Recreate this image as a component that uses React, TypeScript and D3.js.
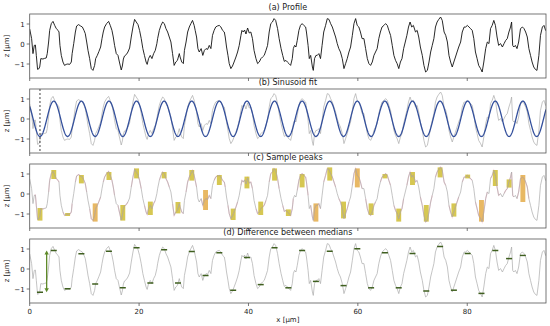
import React from 'react';
import * as d3 from 'd3';

const W = 550;
const H = 326;

// Surface profile z(x), x in µm, z in µm
const profile: [number, number][] = [
  [0,0.75],[0.35,0.27],[0.6,-0.48],[0.84,-0.07],[1.04,-0.05],[1.21,-0.57],[1.44,-1.27],[1.63,-1.25],[1.83,-1.15],[2.03,-0.73],[2.42,-0.75],[2.72,-0.72],[3.02,-0.7],[3.21,-0.48],[3.46,0.1],[3.65,0.68],[3.95,1.02],[4.26,1.13],[4.57,0.93],[4.86,0.77],[5.19,0.68],[5.36,0.6],[5.53,-0.07],[5.78,-0.57],[6.08,-0.9],[6.37,-1.07],[6.67,-1.02],[6.97,-1.0],[7.31,-1.02],[7.61,-0.9],[7.76,-0.48],[8.05,0.02],[8.35,0.6],[8.58,0.9],[8.94,0.97],[9.31,0.9],[9.63,0.85],[9.93,0.68],[10.16,0.52],[10.42,0.1],[10.66,-0.32],[10.96,-0.73],[11.26,-1.23],[11.57,-1.32],[11.87,-1.07],[12.06,-0.73],[12.36,-0.57],[12.66,-0.37],[12.97,-0.15],[13.22,0.27],[13.45,0.6],[13.7,0.85],[14.06,1.02],[14.43,1.13],[14.73,0.93],[15.04,0.68],[15.28,0.35],[15.52,-0.07],[15.83,-0.48],[16.14,-0.57],[16.44,-0.95],[16.74,-1.3],[16.94,-1.1],[17.13,-0.75],[17.33,-0.6],[17.66,-0.53],[17.96,-0.4],[18.27,-0.2],[18.57,0.35],[18.88,0.85],[19.18,1.23],[19.48,1.1],[19.8,0.97],[20.09,0.68],[20.39,0.27],[20.69,-0.23],[20.98,-0.57],[21.28,-0.9],[21.48,-1.02],[21.73,-0.73],[22.04,-0.57],[22.35,-0.73],[22.66,-0.48],[22.96,-0.32],[23.25,0.02],
  [23.39,0.27],[23.7,0.68],[24.0,0.93],[24.31,1.1],[24.61,1.02],[24.91,0.77],[25.22,0.6],[25.52,0.35],[25.82,0.1],[26.12,-0.48],[26.41,-1.07],[26.71,-0.9],[27.01,-0.82],[27.35,-0.48],[27.5,-0.65],[27.8,-0.9],[28.09,-0.98],[28.29,-0.32],[28.59,0.1],[28.88,0.6],[29.18,0.85],[29.47,1.02],[29.77,1.18],[30.07,0.93],[30.26,0.68],[30.51,0.35],[30.76,-0.23],[31.0,-0.4],[31.35,-0.23],[31.65,-0.57],[31.94,-0.32],[32.24,-0.23],[32.53,-0.27],[32.83,-0.07],[33.13,-0.23],[33.42,0.43],[33.72,0.68],[34.01,0.85],[34.31,0.9],[34.66,0.93],[34.96,0.85],[35.27,0.68],[35.58,0.6],[35.75,0.35],[35.99,-0.15],[36.25,-0.57],[36.48,-0.98],[36.78,-1.23],[37.08,-1.1],[37.37,-0.9],[37.71,-0.65],[38.01,-0.4],[38.31,-0.07],[38.62,0.43],[38.8,0.68],[39.05,0.6],[39.29,0.7],[39.54,0.5],[39.84,0.8],[40.14,0.55],[40.43,0.6],[40.73,0.27],[41.02,-0.32],[41.37,-0.73],[41.67,-0.98],[41.97,-0.9],[42.28,-0.73],[42.57,-0.65],[42.88,-0.57],[43.2,-0.32],[43.49,-0.07],[43.79,0.6],[44.08,1.02],[44.38,1.1],[44.68,1.27],[44.97,1.18],[45.32,0.77],[45.61,0.27],[45.96,-0.23],[46.26,-0.57],[46.55,-0.87],[46.85,-0.82],
  [47.11,-0.9],[47.41,-0.98],[47.71,-1.07],[48.01,-0.73],[48.2,-0.23],[48.43,-0.07],[48.68,-0.15],[48.92,0.18],[49.22,0.68],[49.51,0.93],[49.81,1.02],[50.11,0.93],[50.45,0.85],[50.6,0.6],[50.9,-0.07],[51.12,-0.73],[51.37,-0.57],[51.69,-1.15],[51.85,-1.32],[52.08,-0.73],[52.34,-0.57],[52.57,-0.57],[52.87,-0.48],[53.17,-0.73],[53.46,-0.07],[53.76,0.6],[54.1,0.93],[54.41,1.27],[54.72,1.23],[55.02,1.02],[55.33,0.85],[55.63,0.6],[55.93,0.35],[56.23,0.02],[56.52,-0.23],[56.82,-0.4],[57.15,-0.73],[57.46,-1.23],[57.76,-0.98],[58.06,-0.73],[58.37,-0.4],[58.67,-0.15],[58.99,0.43],[59.29,1.02],[59.59,1.27],[59.88,0.93],[60.18,0.85],[60.47,0.6],[60.77,0.27],[61.11,0.27],[61.42,-0.23],[61.73,-0.73],[62.02,-0.98],[62.33,-1.07],[62.64,-0.9],[62.94,-0.57],[63.23,-0.4],[63.53,-0.23],[63.83,0.27],[64.12,0.6],[64.42,0.85],[64.77,0.93],[65.07,1.02],[65.38,0.93],[65.67,0.68],[65.98,0.43],[66.29,-0.07],[66.59,-0.57],[66.89,-0.82],[67.18,-0.98],[67.48,-1.23],[67.78,-0.9],[68.07,-0.73],[68.37,-0.23],[68.67,0.1],[68.96,0.43],[69.26,0.85],[69.55,1.1],[69.85,0.85],[70.15,0.93],
  [70.54,0.6],[70.84,0.68],[71.13,0.35],[71.43,-0.15],[71.78,-0.57],[72.08,-1.07],[72.39,-1.4],[72.71,-1.32],[73.01,-0.9],[73.31,-0.4],[73.6,-0.07],[73.9,0.27],[74.19,0.85],[74.49,1.1],[74.79,1.23],[75.13,1.35],[75.43,1.18],[75.77,0.6],[76.07,0.43],[76.37,0.1],[76.66,-0.57],[76.96,-0.9],[77.26,-1.15],[77.55,-0.9],[77.85,-0.65],[78.14,-0.4],[78.44,-0.15],[78.79,0.1],[79.09,0.6],[79.43,0.85],[79.72,0.85],[80.02,0.93],[80.31,0.85],[80.61,0.77],[80.91,0.68],[81.2,0.27],[81.5,-0.4],[81.8,-0.73],[82.09,-1.07],[82.44,-1.23],[82.73,-1.4],[83.03,-0.9],[83.37,-0.23],[83.67,0.1],[83.97,0.02],[84.26,0.77],[84.56,0.93],[84.86,1.18],[85.15,0.93],[85.45,0.35],[85.74,-0.07],[86.09,0.02],[86.43,-0.15],[86.73,0.02],[87.03,0.18],[87.32,0.27],[87.62,0.6],[87.92,0.85],[88.11,1.1],[88.31,-0.07],[88.51,-0.15],[88.8,-0.07],[89.1,-0.23],[89.4,0.1],[89.74,0.77],[90.09,0.85],[90.38,0.77],[90.68,0.6],[90.98,0.35],[91.27,-0.23],[91.57,-0.57],[91.86,-0.9],[92.16,-1.15],[92.46,-1.27],[92.75,-1.32],[93.1,-0.57],[93.39,0.43],[93.74,0.85],[94.03,0.93],[94.33,0.68],[94.4,0.66]
];

// Sinusoid fit parameters
const fitAmplitude = 0.885;
const fitPeriod = 5.045;
const fitTroughX = 1.88;
const fitOffset = 0.01;

// Sample windows (alternating trough / peak) centres, µm
const windowCenters = [1.88,4.40,6.93,9.45,11.97,14.49,17.02,19.54,22.06,24.58,27.11,29.63,32.15,34.67,37.20,39.72,42.24,44.77,47.29,49.81,52.33,54.86,57.38,59.90,62.42,64.95,67.47,69.99,72.51,75.04,77.56,80.08,82.60,85.13,87.65,90.17];
const windowLo = [-1.33,0.75,-1.1,0.53,-1.38,0.7,-1.33,0.78,-1.05,0.78,-0.97,0.67,-0.8,0.45,-1.3,0.28,-1.05,0.67,-1.1,0.33,-1.38,0.67,-1.22,0.33,-1.05,0.78,-1.38,0.45,-1.38,0.83,-1.13,0.78,-1.38,0.4,0.32,-0.4];
const windowHi = [-0.7,1.2,-0.95,0.95,-0.47,1.1,-0.55,1.28,-0.38,1.1,-0.4,1.2,0.2,0.95,-0.73,0.87,-0.38,1.28,-0.77,1.0,-0.47,1.33,-0.38,1.28,-0.47,1.0,-0.73,1.1,-0.55,1.33,-0.47,0.97,-0.3,1.2,0.73,0.95];
const windowMedians = [-1.16,0.93,-0.99,0.76,-0.75,0.89,-0.94,1.06,-0.7,0.96,-0.7,0.88,-0.33,0.81,-1.06,0.57,-0.78,1.06,-0.94,0.93,-0.62,0.89,-0.83,1.01,-0.94,0.81,-0.94,0.77,-1.1,1.12,-1.06,0.77,-1.22,0.93,0.52,0.68];

const xTicks = [0, 20, 40, 60, 80];
const yTicks = [-1, 0, 1];
const panelTitles = ['(a) Profile', '(b) Sinusoid fit', '(c) Sample peaks', '(d) Difference between medians'];

const X0 = 29.7, X1 = 546;
const xDomain: [number, number] = [0, 94.4];
const yDomain: [number, number] = [-1.7, 1.5];
const panelTops = [14, 89, 164, 239];
const panelH = 64;
const FONT = 'DejaVu Sans, sans-serif';

export default function App() {
  const x = d3.scaleLinear().domain(xDomain).range([X0, X1]);
  const fitCurve = d3.range(0, 94.41, 0.05).map((t) => [t, fitOffset - fitAmplitude * Math.cos((2 * Math.PI * (t - fitTroughX)) / fitPeriod)] as [number, number]);

  const panels = panelTops.map((top, i) => {
    const y = d3.scaleLinear().domain(yDomain).range([top + panelH, top]);
    const line = d3.line<[number, number]>().x((d) => x(d[0])).y((d) => y(d[1]));
    const clipId = `clip${i}`;
    return (
      <g key={i}>
        <defs>
          <clipPath id={clipId}>
            <rect x={X0} y={top} width={X1 - X0} height={panelH} />
          </clipPath>
        </defs>
        <text x={(X0 + X1) / 2} y={top - 4} textAnchor="middle" fontSize={8} fontFamily={FONT} fill="#222">{panelTitles[i]}</text>
        <g clipPath={`url(#${clipId})`}>
          {i === 2 && windowCenters.map((c, k) => {
            const seg = profile.filter((p) => p[0] >= c - 1.1 && p[0] <= c + 1.1);
            return <path key={'p' + k} d={line(seg) || ''} fill="none" stroke="#f7c8d4" strokeWidth={1.2} strokeOpacity={0.8} />;
          })}
          {i === 2 && windowCenters.map((c, k) => {
            const lo = windowLo[k], hi = windowHi[k];
            const tall = hi - lo > 0.85;
            return (
              <rect key={k} x={x(c - 0.45)} width={x(c + 0.45) - x(c - 0.45)} y={y(hi)} height={y(lo) - y(hi)}
                fill={tall ? '#e0a030' : '#c8b418'} fillOpacity={0.75} />
            );
          })}
          <path d={line(profile) || ''} fill="none" stroke={i === 0 ? '#111' : '#ababab'} strokeWidth={i === 0 ? 0.9 : 0.7} strokeLinejoin="round" />
          {i === 1 && (
            <>
              <path d={line(fitCurve) || ''} fill="none" stroke="#34509c" strokeWidth={1.3} />
              <line x1={x(fitTroughX)} x2={x(fitTroughX)} y1={top} y2={top + panelH} stroke="#111" strokeWidth={0.8} strokeDasharray="2,2" />
            </>
          )}
          {i === 3 && windowCenters.map((c, k) => (
            <line key={k} x1={x(c - 0.55)} x2={x(c + 0.55)} y1={y(windowMedians[k])} y2={y(windowMedians[k])} stroke="#3f5f1f" strokeWidth={1.5} />
          ))}
          {i === 3 && (
            <g stroke="#5f8a2a" fill="#5f8a2a">
              <line x1={x(3.1)} x2={x(3.1)} y1={y(windowMedians[1]) + 3} y2={y(windowMedians[0]) - 3} strokeWidth={1.3} />
              <path d={`M${x(3.1)},${y(windowMedians[1])} l-2.2,4 l4.4,0 z`} stroke="none" />
              <path d={`M${x(3.1)},${y(windowMedians[0])} l-2.2,-4 l4.4,0 z`} stroke="none" />
            </g>
          )}
        </g>
        <rect x={X0} y={top} width={X1 - X0} height={panelH} fill="none" stroke="#555" strokeWidth={0.8} />
        {yTicks.map((t) => (
          <g key={t}>
            <line x1={X0 - 3} x2={X0} y1={y(t)} y2={y(t)} stroke="#555" strokeWidth={0.8} />
            <text x={X0 - 5} y={y(t) + 2.5} textAnchor="end" fontSize={7} fontFamily={FONT} fill="#222">{t < 0 ? `\u2212${-t}` : `${t}`}</text>
          </g>
        ))}
        {xTicks.map((t) => (
          <line key={t} x1={x(t)} x2={x(t)} y1={top + panelH} y2={top + panelH + 3} stroke="#555" strokeWidth={0.8} />
        ))}
        <text transform={`translate(9,${top + panelH / 2}) rotate(-90)`} textAnchor="middle" fontSize={7} fontFamily={FONT} fill="#222">z [µm]</text>
        {i === 3 && xTicks.map((t) => (
          <text key={t} x={x(t)} y={top + panelH + 11} textAnchor="middle" fontSize={7} fontFamily={FONT} fill="#222">{t}</text>
        ))}
      </g>
    );
  });

  return (
    <svg width={W} height={H} style={{ position: 'absolute', left: 0, top: 0, background: '#fff' }}>
      {panels}
      <text x={(X0 + X1) / 2} y={322} textAnchor="middle" fontSize={7} fontFamily={FONT} fill="#222">x [µm]</text>
    </svg>
  );
}
